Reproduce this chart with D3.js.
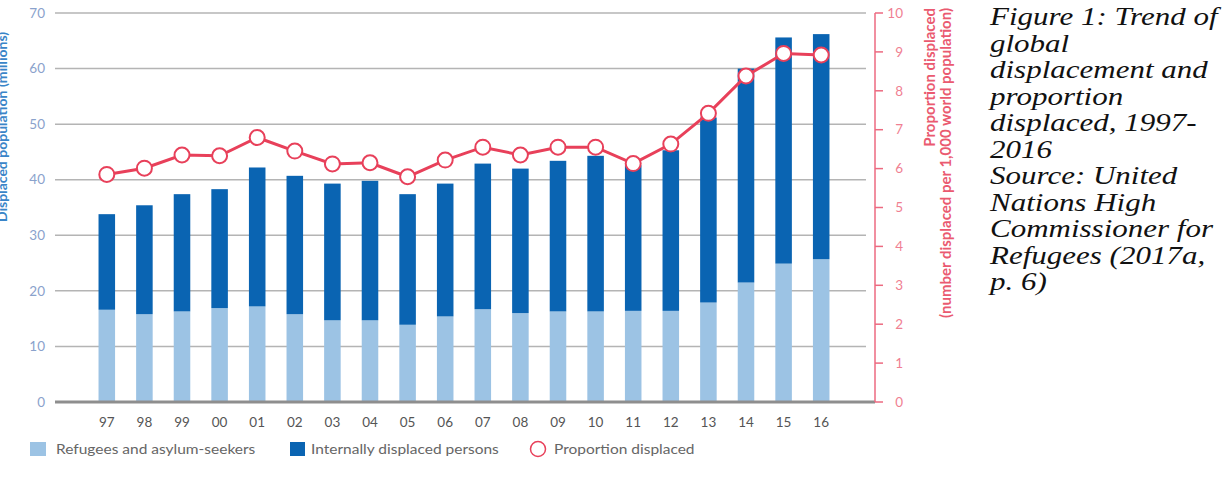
<!DOCTYPE html>
<html>
<head>
<meta charset="utf-8">
<script src="https://cdn.jsdelivr.net/npm/d3@7"></script>
<style>
    body { margin: 0; background: #fff; }
    svg { display: block; }
</style>
</head>
<body>
<div id="chart"></div>
<script>
// values
var years = ['97', '98', '99', '00', '01', '02', '03', '04', '05', '06', '07', '08', '09', '10', '11', '12', '13', '14', '15', '16'];
var refugees = [16.6, 15.8, 16.3, 16.9, 17.2, 15.8, 14.7, 14.7, 13.9, 15.4, 16.7, 16.0, 16.3, 16.3, 16.4, 16.4, 17.9, 21.5, 24.9, 25.7];
var idps = [17.2, 19.6, 21.1, 21.4, 25.0, 24.9, 24.6, 25.1, 23.5, 23.9, 26.2, 26.0, 27.1, 28.0, 26.2, 28.9, 33.3, 38.5, 40.7, 40.5];
var proportion = [5.85, 6.01, 6.35, 6.33, 6.8, 6.45, 6.12, 6.15, 5.79, 6.22, 6.55, 6.35, 6.55, 6.55, 6.13, 6.63, 7.42, 8.38, 8.96, 8.92];
var leftTicks = [0, 10, 20, 30, 40, 50, 60, 70];
var rightTicks = [0, 1, 2, 3, 4, 5, 6, 7, 8, 9, 10];
var legendItems = ['Refugees and asylum-seekers', 'Internally displaced persons', 'Proportion displaced'];
var captionLines = ['Figure 1: Trend of', 'global', 'displacement and', 'proportion', 'displaced, 1997-', '2016',
    'Source: United', 'Nations High', 'Commissioner for', 'Refugees (2017a,', 'p. 6)'];

var width = 1228, height = 493;
var lightBlue = '#9cc3e4', darkBlue = '#0a64b2', red = '#e8405a', pink = '#f07f92';
var font = 'Lato, sans-serif';

var svg = d3.select('#chart').append('svg')
    .attr('width', width)
    .attr('height', height);

var plot = {left: 55, right: 875, top: 13, bottom: 402};

var x = d3.scaleBand()
    .domain(years)
    .range([88, 840])
    .paddingInner(0.56)
    .paddingOuter(0.28);

var yLeft = d3.scaleLinear().domain([0, 70]).range([plot.bottom, plot.top]);
var yRight = d3.scaleLinear().domain([0, 10]).range([plot.bottom, plot.top]);

// gridlines
svg.append('g').selectAll('line')
    .data(leftTicks.filter(function(d) { return d > 0; }))
    .join('line')
    .attr('x1', plot.left)
    .attr('x2', plot.right - 9)
    .attr('y1', function(d) { return yLeft(d); })
    .attr('y2', function(d) { return yLeft(d); })
    .style('stroke', '#b4b4b4')
    .style('stroke-width', 1.5);

// left tick labels
svg.append('g').selectAll('text')
    .data(leftTicks)
    .join('text')
    .attr('x', 45)
    .attr('y', function(d) { return yLeft(d); })
    .attr('dy', '0.35em')
    .attr('text-anchor', 'end')
    .attr('font-family', font)
    .attr('font-size', '13.5px')
    .attr('fill', '#8aa2cc')
    .text(function(d) { return d; });

// left axis title (runs off the top edge like the original)
svg.append('text')
    .attr('transform', 'translate(2, 222) rotate(-90)')
    .attr('dy', '0.35em')
    .attr('font-family', font)
    .attr('font-size', '14px')
    .attr('font-weight', 'bold')
    .attr('fill', '#3a85c8')
    .text('Displaced population (millions)');

// stacked bars
var stacked = years.map(function(yr, i) {
    return {year: yr, ref: refugees[i], idp: idps[i]};
});

svg.append('g').selectAll('rect')
    .data(stacked)
    .join('rect')
    .attr('x', function(d) { return x(d.year); })
    .attr('width', x.bandwidth())
    .attr('y', function(d) { return yLeft(d.ref); })
    .attr('height', function(d) { return yLeft(0) - yLeft(d.ref); })
    .style('fill', lightBlue);

svg.append('g').selectAll('rect')
    .data(stacked)
    .join('rect')
    .attr('x', function(d) { return x(d.year); })
    .attr('width', x.bandwidth())
    .attr('y', function(d) { return yLeft(d.ref + d.idp); })
    .attr('height', function(d) { return yLeft(d.ref) - yLeft(d.ref + d.idp); })
    .style('fill', darkBlue);

// baseline
svg.append('line')
    .attr('x1', plot.left)
    .attr('x2', plot.right)
    .attr('y1', yLeft(0))
    .attr('y2', yLeft(0))
    .style('stroke', '#8e8e8e')
    .style('stroke-width', 3);

// x labels
svg.append('g').selectAll('text')
    .data(years)
    .join('text')
    .attr('x', function(d) { return x(d) + x.bandwidth() / 2; })
    .attr('y', 422)
    .attr('dy', '0.35em')
    .attr('text-anchor', 'middle')
    .attr('font-family', font)
    .attr('font-size', '13.5px')
    .attr('fill', '#555')
    .text(function(d) { return d; });

// right axis
var rightAxis = svg.append('g');
rightAxis.append('line')
    .attr('x1', plot.right)
    .attr('x2', plot.right)
    .attr('y1', yRight(10))
    .attr('y2', yRight(0))
    .style('stroke', '#ec6a80')
    .style('stroke-width', 1.5);
rightAxis.selectAll('.tick')
    .data(rightTicks)
    .join('line')
    .attr('x1', plot.right)
    .attr('x2', plot.right + 8)
    .attr('y1', function(d) { return yRight(d); })
    .attr('y2', function(d) { return yRight(d); })
    .style('stroke', '#ec6a80')
    .style('stroke-width', 1.5);
rightAxis.selectAll('text')
    .data(rightTicks)
    .join('text')
    .attr('x', 903)
    .attr('y', function(d) { return yRight(d); })
    .attr('dy', '0.35em')
    .attr('text-anchor', 'end')
    .attr('font-family', font)
    .attr('font-size', '13.5px')
    .attr('fill', pink)
    .text(function(d) { return d; });

// right axis title, two lines
[['Proportion displaced', 930], ['(number displaced per 1,000 world population)', 946]].forEach(function(t) {
    svg.append('text')
        .attr('transform', 'translate(' + t[1] + ', 8) rotate(-90)')
        .attr('dy', '0.35em')
        .attr('text-anchor', 'end')
        .attr('font-family', font)
        .attr('font-size', '15px')
        .attr('font-weight', 'bold')
        .attr('fill', '#ea5a70')
        .text(t[0]);
});

// proportion line
var line = d3.line()
    .x(function(d, i) { return x(years[i]) + x.bandwidth() / 2; })
    .y(function(d) { return yRight(d); });

svg.append('path')
    .datum(proportion)
    .attr('d', line)
    .style('fill', 'none')
    .style('stroke', red)
    .style('stroke-width', 3);

svg.append('g').selectAll('circle')
    .data(proportion)
    .join('circle')
    .attr('cx', function(d, i) { return x(years[i]) + x.bandwidth() / 2; })
    .attr('cy', function(d) { return yRight(d); })
    .attr('r', 7.5)
    .style('fill', '#fff')
    .style('stroke', red)
    .style('stroke-width', 2);

// legend
var legendY = 449;
var gLegend = svg.append('g');
gLegend.append('rect')
    .attr('x', 30).attr('y', legendY - 7)
    .attr('width', 16).attr('height', 14)
    .style('fill', lightBlue);
gLegend.append('rect')
    .attr('x', 290).attr('y', legendY - 7)
    .attr('width', 15).attr('height', 14)
    .style('fill', darkBlue);
gLegend.append('circle')
    .attr('cx', 538).attr('cy', legendY)
    .attr('r', 7.5)
    .style('fill', '#fff')
    .style('stroke', red)
    .style('stroke-width', 1.5);
gLegend.selectAll('text')
    .data(legendItems)
    .join('text')
    .attr('transform', function(d, i) {
        return 'translate(' + [56, 311, 554][i] + ',' + legendY + ') scale(1, 0.85)';
    })
    .attr('dy', '0.35em')
    .attr('font-family', font)
    .attr('font-size', '15.5px')
    .attr('fill', '#666')
    .text(function(d) { return d; });

// figure caption on the right (squashed a little, as in the source)
svg.append('g').selectAll('text')
    .data(captionLines)
    .join('text')
    .attr('transform', function(d, i) {
        return 'translate(990,' + (25 + i * 26.5) + ') scale(1, 0.8)';
    })
    .attr('font-family', '"Liberation Serif", "Times New Roman", serif')
    .attr('font-style', 'italic')
    .attr('font-size', '31px')
    .attr('fill', '#111')
    .text(function(d) { return d; });
</script>
</body>
</html>
